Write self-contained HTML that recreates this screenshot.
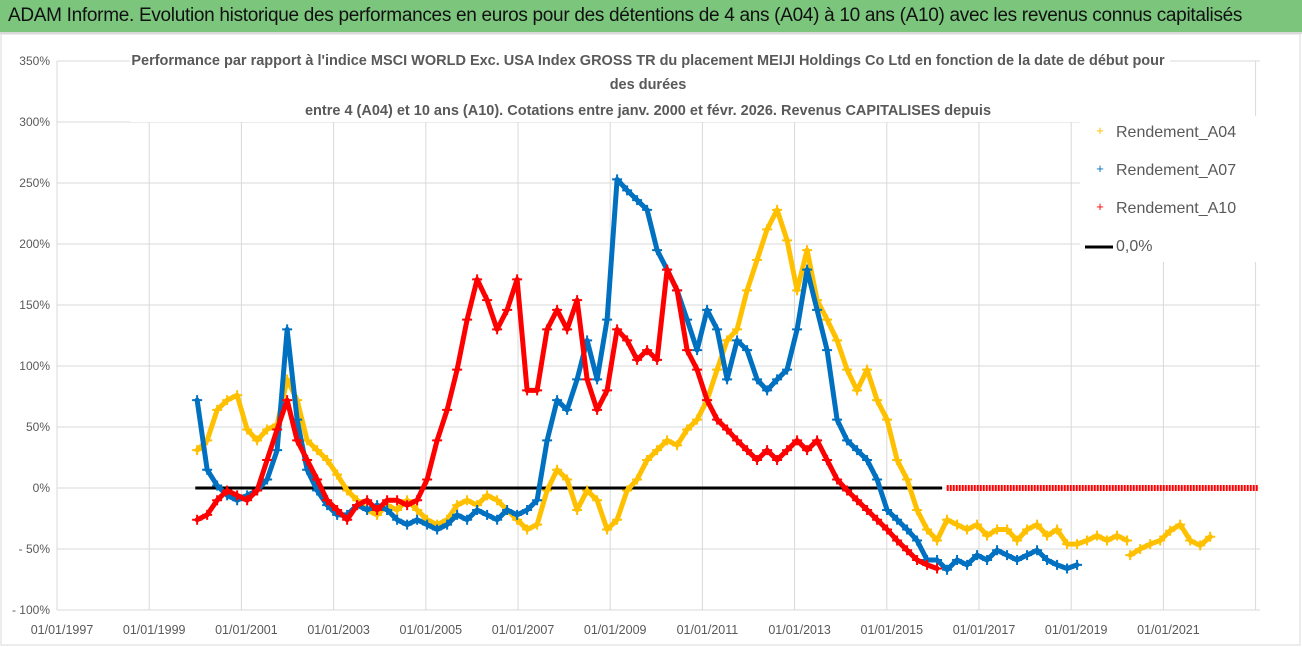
<!DOCTYPE html>
<html><head><meta charset="utf-8"><style>
body{margin:0;width:1302px;height:647px;overflow:hidden;background:#fff;font-family:"Liberation Sans",sans-serif}
#hdr{position:absolute;left:0;top:0;width:1302px;height:32px;background:#7cc57d;border-bottom:2px solid #d9d9d9}
#hdr span{position:absolute;left:8px;top:5px;font-size:19px;color:#111;letter-spacing:-0.3px}
svg{position:absolute;left:0;top:0}
</style></head><body>
<div id="hdr"><span>ADAM Informe. Evolution historique des performances en euros pour des détentions de 4 ans (A04) à 10 ans (A10) avec les revenus connus capitalisés</span></div>
<svg id="chart" width="1302" height="647"></svg>
<script>
const yTicks=[350,300,250,200,150,100,50,0,-50,-100];
const xTickYears=[1997,1999,2001,2003,2005,2007,2009,2011,2013,2015,2017,2019,2021];
const stepYears=0.2169;
const a04Start=2000.04;
const a04Values=[31,39,64,72,76,48,39,48,52,89,72,39,31,23,11,-2,-10,-18,-22,-14,-18,-10,-18,-26,-30,-26,-14,-10,-14,-6,-10,-18,-26,-34,-30,-2,15,7,-18,-2,-10,-34,-26,-2,7,23,31,39,35,48,56,72,97,121,130,162,187,212,228,203,162,195,154,138,121,97,80,97,72,56,23,7,-18,-34,-43,-26,-30,-34,-30,-39,-34,-34,-43,-34,-30,-39,-34,-46,-46,-43,-39,-43,-39,-43];
const a04bStart=2020.28;
const a04bValues=[-55,-50,-46,-43,-35,-30,-43,-47,-40];
const a07Start=2000.04;
const a07Values=[72,15,2,-6,-10,-6,-2,7,31,130,56,15,-2,-14,-22,-22,-14,-18,-14,-18,-26,-30,-26,-30,-34,-30,-22,-26,-18,-22,-26,-18,-22,-18,-10,39,72,64,89,121,89,138,253,244,236,228,195,179,162,138,113,146,130,89,121,113,89,80,89,97,130,179,146,113,56,39,31,23,7,-18,-26,-34,-43,-59,-59,-67,-59,-63,-55,-59,-51,-55,-59,-55,-51,-59,-63,-66,-63];
const a10Start=2000.04;
const a10Values=[-26,-22,-10,-2,-6,-10,-2,23,48,72,39,23,7,-10,-18,-26,-14,-10,-18,-10,-10,-14,-10,7,39,64,97,138,171,154,130,146,171,80,80,130,146,130,154,89,64,80,130,121,105,113,105,179,162,113,97,72,56,48,39,31,23,31,23,31,39,31,39,23,7,-2,-10,-18,-26,-34,-43,-51,-59,-63,-66];
const a10TailDates=[2016.3,2023.05];
const a10TailValues=[0,0];
const zeroLineDates=[2000.0,2016.2];
const legendLabels=["Rendement_A04","Rendement_A07","Rendement_A10","0,0%"];

const NS="http://www.w3.org/2000/svg";
const svg=document.getElementById('chart');
const X=y=>57+(y-1997)*46.1;
const Y=v=>488-v*1.22;
function mk(t,a,p){const e=document.createElementNS(NS,t);for(const k in a)e.setAttribute(k,a[k]);(p||svg).appendChild(e);return e;}
yTicks.forEach(v=>{
 const l=mk('line',{x1:57,x2:1260,y1:Y(v),y2:Y(v),stroke:'#d9d9d9','stroke-width':1});
 
 
 const t=mk('text',{x:50,y:Y(v)+4,'text-anchor':'end','font-size':12,fill:'#595959'});
 t.textContent=(v<0?'- '+(-v):v)+'%';
 
 
});
xTickYears.concat([2023]).forEach(yr=>{
 const l=mk('line',{x1:X(yr),x2:X(yr),y1:Y(350),y2:Y(-100),stroke:'#d9d9d9','stroke-width':1});
 
 
});
xTickYears.forEach(yr=>{
 const t=mk('text',{x:X(yr)+5,y:634,'text-anchor':'middle','font-size':12.5,fill:'#595959'});
 t.textContent='01/01/'+yr;
 
 
});
const tb=mk('rect',{x:130,y:46,width:1040,height:76,fill:'#fff'});


const titles=["Performance par rapport à l'indice MSCI WORLD Exc. USA Index GROSS TR  du placement MEIJI Holdings Co Ltd en fonction de la date de début pour","des durées","entre 4 (A04) et 10 ans (A10). Cotations entre janv. 2000 et févr. 2026. Revenus CAPITALISES depuis"];
[[648,65],[648,89],[648,115]].forEach((p,i)=>{
 const t=mk('text',{x:p[0],y:p[1],'text-anchor':'middle','font-size':14.5,'font-weight':'bold',fill:'#595959'});
 t.textContent=titles[i];
 
 
});
function series(start,vals,color,name){
 const g=mk('g',{});
 
 
 const pts=vals.map((v,i)=>[X(start+i*stepYears),Y(v)]);
 mk('polyline',{points:pts.map(p=>p.join(',')).join(' '),fill:'none',stroke:color,'stroke-width':5,'stroke-linejoin':'round','stroke-linecap':'round'},g);
 pts.forEach(p=>{
  const c=mk('path',{d:`M${p[0]-5},${p[1]}h10M${p[0]},${p[1]-5}v10`,stroke:color,'stroke-width':2},g);
  
  
 });
}
const zl=mk('line',{x1:X(zeroLineDates[0]),x2:X(zeroLineDates[1]),y1:Y(0),y2:Y(0),stroke:'#000','stroke-width':3});


series(a04Start,a04Values,'#FFC000','series-a04');
series(a04bStart,a04bValues,'#FFC000','series-a04-late');
series(a07Start,a07Values,'#0070C0','series-a07');
series(a10Start,a10Values,'#FF0000','series-a10');
const tail=mk('line',{x1:X(a10TailDates[0]),x2:X(a10TailDates[1]),y1:Y(a10TailValues[0]),y2:Y(a10TailValues[1]),stroke:'#FF0000','stroke-width':6,'stroke-dasharray':'2 1'});


const lb=mk('rect',{x:1080,y:116,width:180,height:146,fill:'#fff'});


const lc=['#FFC000','#0070C0','#FF0000','#000'];
legendLabels.forEach((s,i)=>{
 const y=131+i*38;
 if(i<3){const m=mk('text',{x:1100,y:y+4,'text-anchor':'middle','font-size':13,fill:lc[i]});m.textContent='+';
 }
 else{const m=mk('line',{x1:1085,x2:1113,y1:y+2,y2:y+2,stroke:'#000','stroke-width':3});
 }
 const t=mk('text',{x:1116,y:y+6,'font-size':16,fill:'#595959'});
 t.textContent=s;
 
 
});
const fr=mk('rect',{x:1,y:34,width:1299,height:611,fill:'none',stroke:'#d9d9d9'});


</script>
</body></html>
